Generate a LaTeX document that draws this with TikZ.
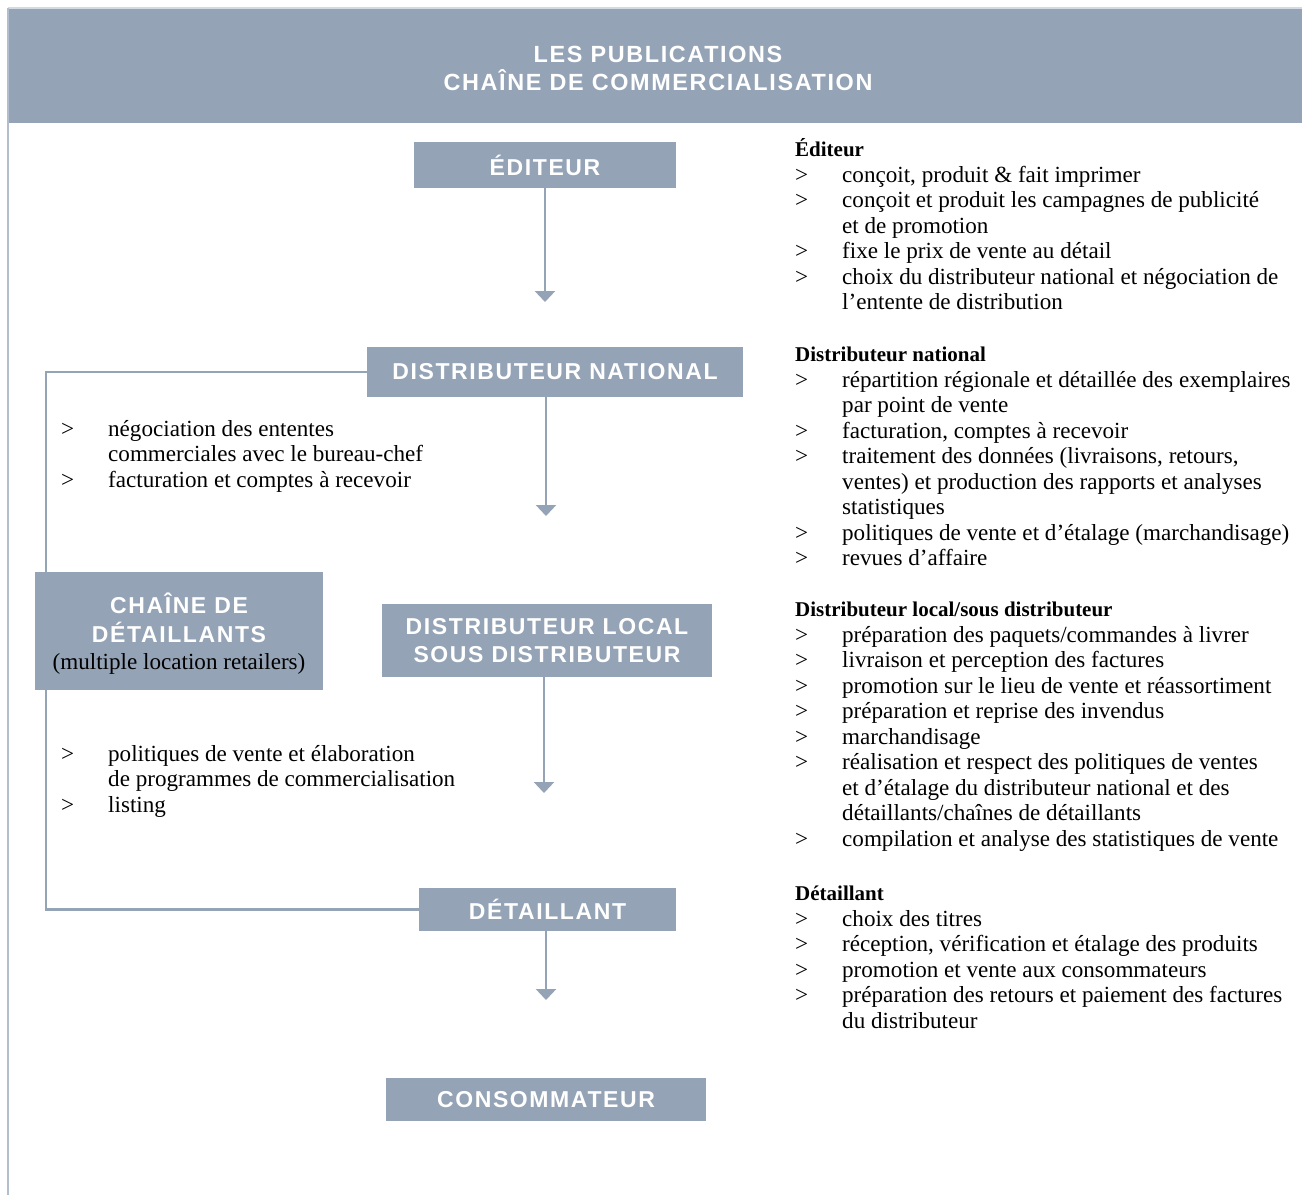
\documentclass[tikz,border=0pt]{standalone}
\usepackage{fontspec}
\setmainfont{Liberation Serif}
\newfontfamily\boxfont[LetterSpace=7]{Liberation Sans}
\usetikzlibrary{arrows.meta}
\definecolor{slate}{RGB}{148,163,181}
\definecolor{lightslate}{RGB}{178,190,205}
\definecolor{paleline}{RGB}{212,218,226}
\newcommand{\gt}{\makebox[47bp][l]{>}}
\newcommand{\ind}{\hspace*{47bp}}
\newcommand{\bodyfont}{\fontsize{23.1bp}{25.5bp}\selectfont}
\newcommand{\headfont}{\fontsize{21bp}{25.5bp}\selectfont\bfseries}
\tikzset{
  stage/.style={fill=slate, text=white, font=\boxfont\bfseries\fontsize{23bp}{28bp}\selectfont,
    align=center, inner sep=0pt, anchor=center},
  label/.style={text=white, font=\boxfont\bfseries\fontsize{23bp}{28bp}\selectfont,
    align=center, inner sep=0pt, anchor=center},
  conn/.style={draw=slate, line width=2.5bp, line join=miter},
  arr/.style={conn, -{Triangle[width=20bp,length=11bp]}},
  txt/.style={anchor=base west, inner sep=0pt, text=black},
}
\begin{document}
\begin{tikzpicture}[x=1bp, y=-1bp]
\useasboundingbox (0,0) rectangle (1302,1195);
% frame
\draw[paleline, line width=1.5bp] (8,8) -- (1302,8);
\draw[lightslate, line width=2bp] (8,8) -- (8,1195);
% header
\node[stage, minimum width=1293bp, minimum height=114bp] (head) at (655.5,66) {};
\node[label, font=\boxfont\bfseries\fontsize{23.4bp}{28bp}\selectfont] (title) at (658,68)
  {LES PUBLICATIONS\\CHAÎNE DE COMMERCIALISATION};
% stages
\node[stage, minimum width=262bp, minimum height=46bp] (edit) at (545,165) {ÉDITEUR};
\node[stage, minimum width=376bp, minimum height=50bp] (dnat) at (555,372) {DISTRIBUTEUR NATIONAL};
\node[stage, minimum width=330bp, minimum height=73bp] (dloc) at (547,640.5) {DISTRIBUTEUR LOCAL\\SOUS DISTRIBUTEUR};
\node[stage, minimum width=257bp, minimum height=43bp] (det) at (547.5,909.5) {DÉTAILLANT};
\node[stage, minimum width=320bp, minimum height=43bp] (cons) at (546,1099.5) {CONSOMMATEUR};
% arrows
\coordinate (t1) at (545,302);
\coordinate (t2) at (546,516);
\coordinate (t3) at (544,793);
\coordinate (t4) at (546,1000);
\draw[arr] (edit.south -| t1) -- (t1);
\draw[arr] (dnat.south -| t2) -- (t2);
\draw[arr] (dloc.south -| t3) -- (t3);
\draw[arr] (det.south -| t4) -- (t4);
% bracket
\coordinate (bk) at (46,600);
\draw[conn] (dnat.west) -| (bk) |- (det.west);
\node[stage, minimum width=288bp, minimum height=118bp] (chain) at (179,631) {};
\node[label, font=\boxfont\bfseries\fontsize{23bp}{29bp}\selectfont] (chaintxt) at (179,634)
  {CHAÎNE DE\\DÉTAILLANTS\\[-2bp]{\rmfamily\mdseries\fontsize{23.1bp}{25.5bp}\selectfont\color{black}(multiple location retailers)}};
% left notes
\node[txt] (lt1) at (61,436) {\parbox[t]{420bp}{\bodyfont
  \gt négociation des ententes\\
  \ind commerciales avec le bureau-chef\\
  \gt facturation et comptes à recevoir}};
\node[txt] (lt2) at (61,761) {\parbox[t]{440bp}{\bodyfont
  \gt politiques de vente et élaboration\\
  \ind de programmes de  commercialisation\\
  \gt listing}};
% right notes
\node[txt] (r1) at (795,156.5) {\parbox[t]{505bp}{\bodyfont
  {\headfont Éditeur}\\
  \gt conçoit, produit \& fait imprimer\\
  \gt conçoit et produit les campagnes de publicité\\
  \ind et de promotion\\
  \gt fixe le prix de vente au détail\\
  \gt choix du distributeur national et négociation de\\
  \ind l’entente de distribution}};
\node[txt] (r2) at (795,361.5) {\parbox[t]{505bp}{\bodyfont
  {\headfont Distributeur national}\\
  \gt répartition régionale et détaillée des exemplaires\\
  \ind par point de vente\\
  \gt facturation, comptes à recevoir\\
  \gt traitement des données (livraisons, retours,\\
  \ind ventes) et production des rapports et analyses\\
  \ind statistiques\\
  \gt politiques de vente et d’étalage (marchandisage)\\
  \gt revues d’affaire}};
\node[txt] (r3) at (795,616.5) {\parbox[t]{505bp}{\bodyfont
  {\headfont Distributeur local/sous distributeur}\\
  \gt préparation des paquets/commandes à livrer\\
  \gt livraison et perception des factures\\
  \gt promotion sur le lieu de vente et réassortiment\\
  \gt préparation et reprise des invendus\\
  \gt marchandisage\\
  \gt réalisation et respect des politiques de ventes\\
  \ind et d’étalage du distributeur national et des\\
  \ind détaillants/chaînes de détaillants\\
  \gt compilation et analyse des statistiques de vente}};
\node[txt] (r4) at (795,900.5) {\parbox[t]{505bp}{\bodyfont
  {\headfont Détaillant}\\
  \gt choix des titres\\
  \gt réception, vérification et étalage des produits\\
  \gt promotion et vente aux consommateurs\\
  \gt préparation des retours et paiement des factures\\
  \ind du distributeur}};
\end{tikzpicture}
\end{document}
